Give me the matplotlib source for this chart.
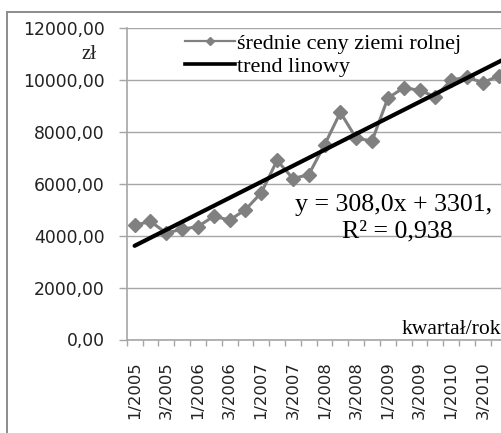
import matplotlib
matplotlib.use("Agg")
import matplotlib.pyplot as plt
from matplotlib.lines import Line2D
from matplotlib.patches import Rectangle
import numpy as np

# ---- data ----
quarters = ["1/2005", "2/2005", "3/2005", "4/2005",
            "1/2006", "2/2006", "3/2006", "4/2006",
            "1/2007", "2/2007", "3/2007", "4/2007",
            "1/2008", "2/2008", "3/2008", "4/2008",
            "1/2009", "2/2009", "3/2009", "4/2009",
            "1/2010", "2/2010", "3/2010", "4/2010"]
prices = [4400, 4550, 4100, 4250,
          4350, 4750, 4600, 5000,
          5650, 6900, 6200, 6350,
          7500, 8750, 7750, 7650,
          9300, 9700, 9600, 9350,
          10000, 10100, 9900, 10150]
trend_slope = 308.0
trend_intercept = 3301.0
y_ticks = [0, 2000, 4000, 6000, 8000, 10000, 12000]
series_label = "średnie ceny ziemi rolnej"
trend_label = "trend linowy"
equation_text = "y = 308,0x + 3301,"
r2_text = "R² = 0,938"

W, H = 502, 433
fig = plt.figure(figsize=(W / 100, H / 100), dpi=100)
fig.patch.set_facecolor("white")

def fx(px):
    return px / W

def fy(py):
    return 1 - py / H

# plot area in pixel coordinates (from the top-left corner)
left_px, right_px, top_px, bottom_px = 126.7, 506.6, 28.0, 339.5
ax = fig.add_axes([fx(left_px), fy(bottom_px), fx(right_px) - fx(left_px), fy(top_px) - fy(bottom_px)])

# chart border (right/bottom parts lie outside of the crop)
fig.patches.append(Rectangle((fx(7), fy(600)), 2.0, fy(12) - fy(600), transform=fig.transFigure,
                             fill=False, edgecolor="#8c8c8c", linewidth=1.4, zorder=0))

x = np.arange(1, len(prices) + 1)
grid_c = "#a6a6a6"
series_c = "#808080"

ax.set_xlim(0.5, len(prices) + 0.5)
ax.set_ylim(0, 12000)
ax.set_yticks(y_ticks)
ax.set_yticklabels([f"{v:.2f}".replace(".", ",") for v in y_ticks])
ax.yaxis.grid(True, color=grid_c, linewidth=1.0)
ax.set_axisbelow(True)

ax.plot(x, prices, color=series_c, linewidth=2.2, marker="D", markersize=7.2,
        markeredgecolor=series_c, markerfacecolor=series_c, zorder=3)
xt = np.array([1, len(prices) + 0.5])
ax.plot(xt, trend_slope * xt + trend_intercept, color="black", linewidth=3.0,
        solid_capstyle="round", zorder=4)

for s in ["top", "right"]:
    ax.spines[s].set_visible(False)
for s in ["left", "bottom"]:
    ax.spines[s].set_color(grid_c)
    ax.spines[s].set_linewidth(1.2)

# x ticks: marks at category boundaries, labels at every other category
ax.set_xticks(np.arange(0.5, len(prices) + 1, 1.0))
ax.set_xticklabels([])
ax.set_xticks(x[::2], minor=True)
ax.set_xticklabels(quarters[::2], minor=True, rotation=90, fontsize=11.8,
                   family="DejaVu Sans", color="#222222", va="top")
ax.tick_params(axis="x", which="major", direction="out", length=4.5, color=grid_c, width=1.0)
ax.tick_params(axis="x", which="minor", length=0, pad=16)
ax.tick_params(axis="y", direction="out", length=5.8, color=grid_c, width=1.0, pad=10,
               labelsize=12.4, labelcolor="#222222")
for t in ax.get_yticklabels():
    t.set_family("DejaVu Sans")

serif = "Liberation Serif"
fig.text(fx(97), fy(59), "zł", ha="right", va="baseline", family=serif, fontsize=15, color="#222222")
fig.text(fx(295), fy(211), equation_text, ha="left", va="baseline", family=serif, fontsize=18.6, color="black")
fig.text(fx(397), fy(237), r2_text, ha="center", va="baseline", family=serif, fontsize=18.6, color="black")
fig.text(fx(402), fy(334), "kwartał/rok", ha="left", va="baseline", family=serif, fontsize=15.6, color="black")

handles = [Line2D([], [], color=series_c, linewidth=1.6, marker="D", markersize=3.8),
           Line2D([], [], color="black", linewidth=2.6)]
fs = 16
fs_px = fs * 100 / 72
fig.legend(handles, [series_label, trend_label], loc="upper left",
           bbox_to_anchor=(fx(185), fy(33)), bbox_transform=fig.transFigure,
           frameon=False, borderpad=0, borderaxespad=0,
           handlelength=50 / fs_px, handletextpad=2 / fs_px, labelspacing=0.14,
           prop={"family": serif, "size": fs})

fig.savefig("out.png", dpi=100, facecolor="white")
